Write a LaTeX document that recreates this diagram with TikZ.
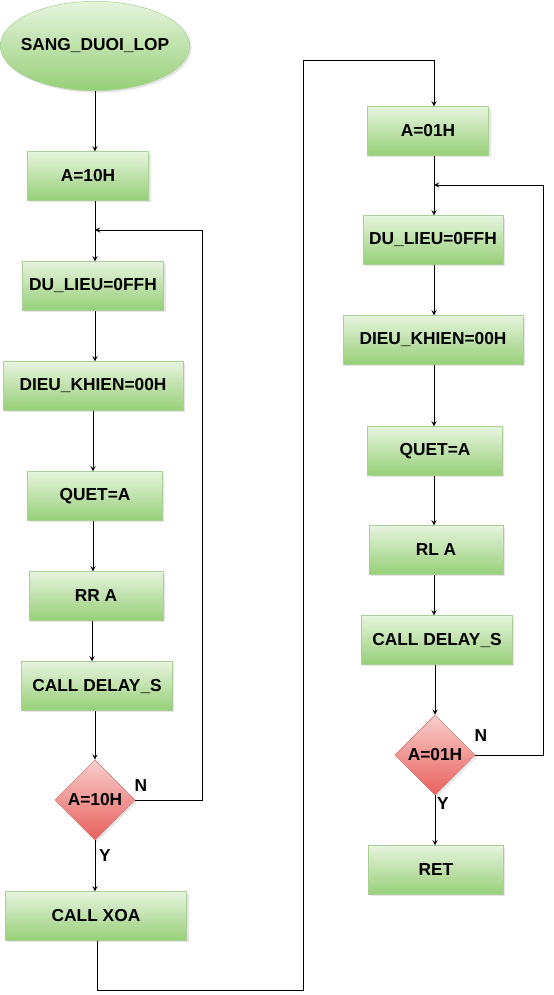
\documentclass[tikz,border=0pt]{standalone}
\usepackage{fontspec}
\setmainfont{Liberation Sans}
\usetikzlibrary{arrows,calc,shapes.geometric,positioning,shadows}
\definecolor{boxtop}{HTML}{E6F4DE}
\definecolor{boxbot}{HTML}{97CF78}
\definecolor{boxline}{HTML}{A9D195}
\definecolor{dectop}{HTML}{F8CECC}
\definecolor{decbot}{HTML}{E8605C}
\definecolor{decline}{HTML}{CF7B78}

\begin{document}
\begin{tikzpicture}[x=0.75pt, y=-0.75pt, every node/.style={font=\fontsize{13}{15}\selectfont\bfseries}]
    \useasboundingbox (0,0) rectangle (553,995);
    \tikzset{BoxStyle/.style = {rectangle, draw=boxline,
        top color = boxtop,
        bottom color = boxbot,
        minimum height = 36.5pt, inner sep = 0pt,
        drop shadow = {shadow xshift=1.5pt, shadow yshift=-1.5pt, fill=black!20}},
      StartStyle/.style = {BoxStyle, ellipse, inner xsep=-5.5pt, minimum width=142pt, minimum height=67pt},
      DecStyle/.style = {BoxStyle, diamond, aspect=1, top color=dectop, bottom color=decbot,
        draw=decline, minimum width=60pt, minimum height=60pt},
      EdgeStyle/.style = {->, >=stealth, line width=0.75pt}}
    % left column
    \node[StartStyle] (S) at (95,46) {SANG\_DUOI\_LOP};
    \node[BoxStyle, minimum width=91pt] (A) at (88,176) {A=10H};
    \node[BoxStyle, minimum width=106pt] (B) at (93,286) {DU\_LIEU=0FFH};
    \node[BoxStyle, minimum width=135pt] (C) at (93,386) {DIEU\_KHIEN=00H};
    \node[BoxStyle, minimum width=101pt] (D) at (95,496) {QUET=A};
    \node[BoxStyle, minimum width=100.5pt] (E) at (96,596) {RR A};
    \node[BoxStyle, minimum width=113pt] (F) at (97,686) {CALL DELAY\_S};
    \node[DecStyle] (G) at (95,800) {A=10H};
    \node[BoxStyle, minimum width=136pt] (H) at (96,916) {CALL XOA};
    % right column
    \node[BoxStyle, minimum width=91pt] (A2) at (428,131) {A=01H};
    \node[BoxStyle, minimum width=105pt] (B2) at (433,240) {DU\_LIEU=0FFH};
    \node[BoxStyle, minimum width=135pt] (C2) at (433,340) {DIEU\_KHIEN=00H};
    \node[BoxStyle, minimum width=101pt] (D2) at (435,451) {QUET=A};
    \node[BoxStyle, minimum width=100.5pt] (E2) at (436,550) {RL A};
    \node[BoxStyle, minimum width=113pt] (F2) at (437,640) {CALL DELAY\_S};
    \node[DecStyle] (G2) at (435,755) {A=01H};
    \node[BoxStyle, minimum width=101pt] (R) at (436,870) {RET};
    % labels
    \node (GN) at (141,786) {N};
    \node (GY) at (105,856) {Y};
    \node (G2N) at (481,736) {N};
    \node (G2Y) at (443,804) {Y};
    \coordinate (M) at (95,230);
    \coordinate (M2) at (434,185);
    \coordinate (K1) at (303,990);
    \coordinate (K2) at (434,61);
    % edges
    \draw[EdgeStyle] (S) -- (S |- A.north);
    \draw[line width=0.75pt] (A.south -| M) -- (M);
    \draw[EdgeStyle] (M) -- (B.north -| M);
    \draw[EdgeStyle] (B.south -| M) -- (C.north -| M);
    \draw[EdgeStyle] ($(C.south -| M)+(-2,0)$) -- ($(D.north -| M)+(-2,0)$);
    \draw[EdgeStyle] ($(D.south -| M)+(-2,0)$) -- ($(E.north -| M)+(-2,0)$);
    \draw[EdgeStyle] ($(E.south -| M)+(-3,0)$) -- ($(F.north -| M)+(-3,0)$);
    \draw[EdgeStyle] (F.south -| G) -- (G.north);
    \draw[EdgeStyle] (G.south) -- (H.north -| G);
    \draw[EdgeStyle] (G.east) -- ++(67,0) |- (M);
    \draw[EdgeStyle] ($(H.south)+(1,0)$) |- (K1) |- (K2) -- (A2.north -| K2);
    \draw[line width=0.75pt] (A2.south -| M2) -- (M2);
    \draw[EdgeStyle] (M2) -- (B2.north -| M2);
    \draw[EdgeStyle] (B2.south -| M2) -- (C2.north -| M2);
    \draw[EdgeStyle] (C2.south -| M2) -- (D2.north -| M2);
    \draw[EdgeStyle] (D2.south -| M2) -- (E2.north -| M2);
    \draw[EdgeStyle] (E2.south -| M2) -- (F2.north -| M2);
    \draw[EdgeStyle] (F2.south -| G2) -- (G2.north);
    \draw[EdgeStyle] (G2.south) -- (R.north -| G2);
    \draw[EdgeStyle] (G2.east) -- ++(68,0) |- (M2);
\end{tikzpicture}
\end{document}
